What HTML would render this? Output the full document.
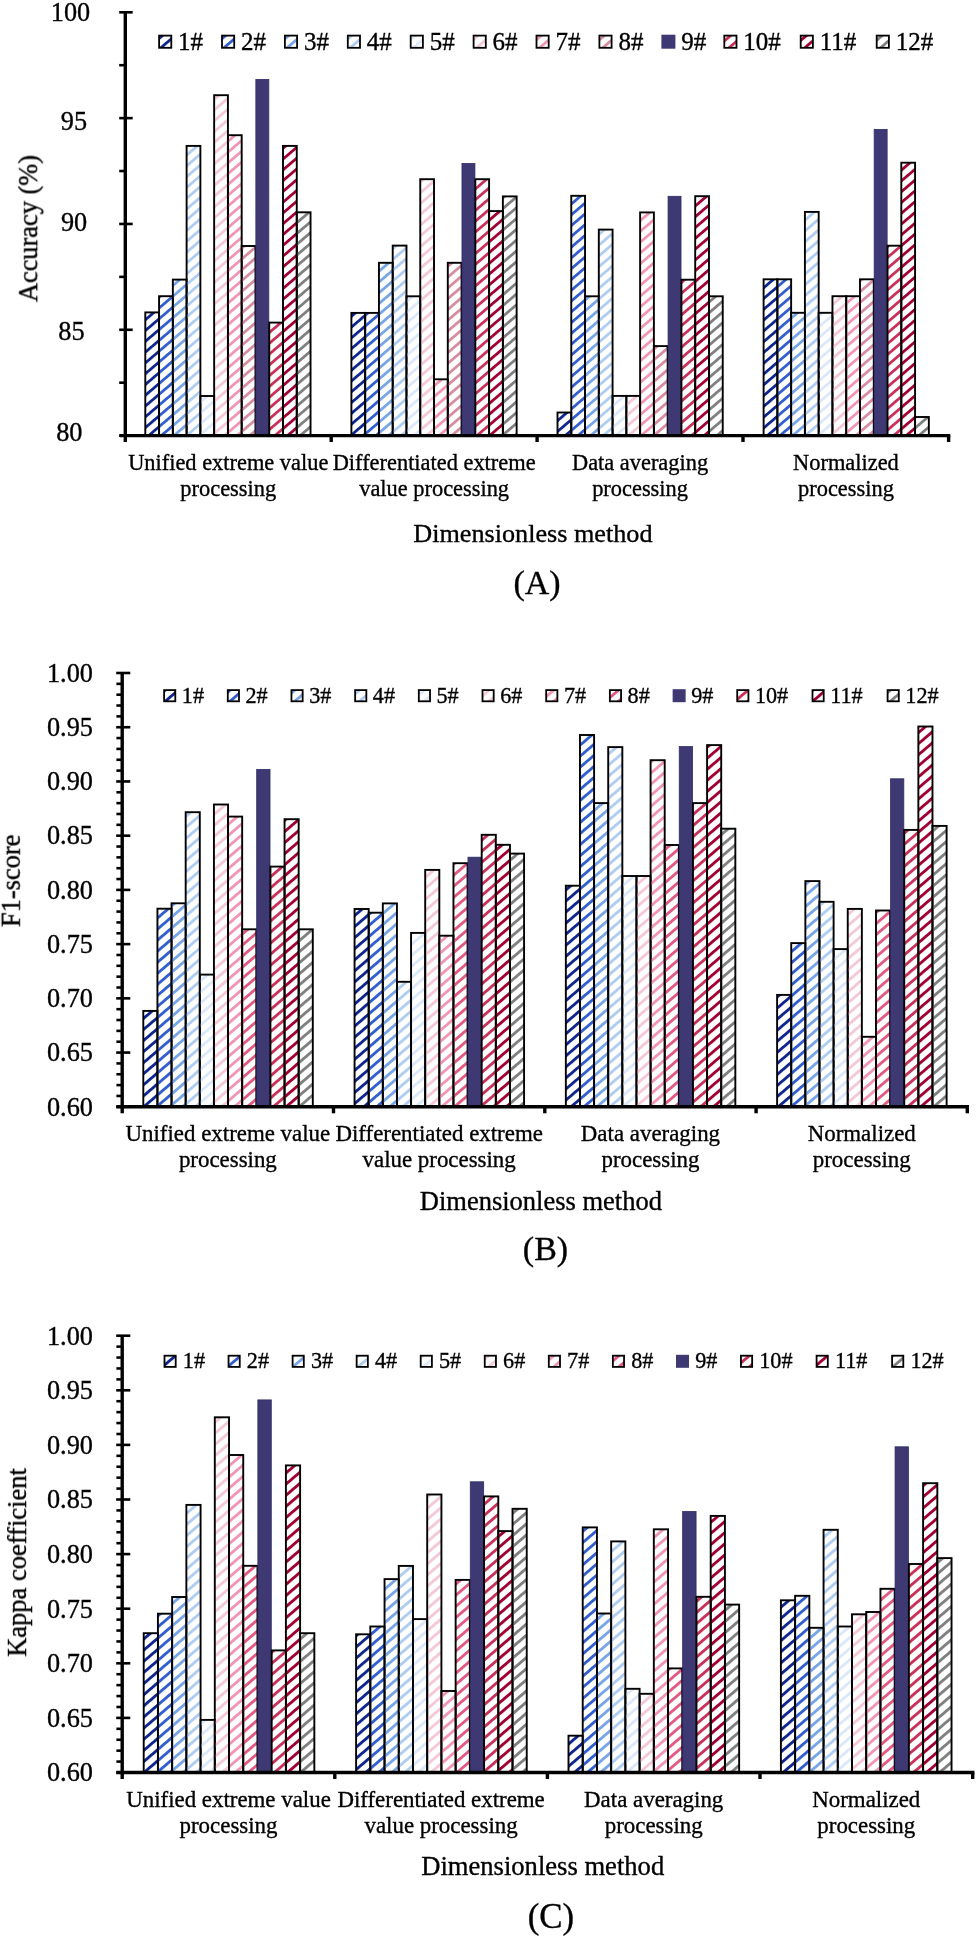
<!DOCTYPE html>
<html><head><meta charset="utf-8"><title>Dimensionless method comparison</title>
<style>
html,body{margin:0;padding:0;background:#fff;}
body{width:976px;height:1936px;overflow:hidden;}
svg{display:block;font-family:"Liberation Serif", serif;}
text{fill:#000;}
</style></head><body>
<svg width="976" height="1936" viewBox="0 0 976 1936">
<defs>
<pattern id="pA1" patternUnits="userSpaceOnUse" width="20" height="8.2" patternTransform="rotate(-40.5)"><rect x="0" y="0" width="20" height="2.8" fill="#0f268e"/></pattern>
<pattern id="pA2" patternUnits="userSpaceOnUse" width="20" height="8.2" patternTransform="rotate(-40.5)"><rect x="0" y="0" width="20" height="2.8" fill="#325fcd"/></pattern>
<pattern id="pA3" patternUnits="userSpaceOnUse" width="20" height="8.2" patternTransform="rotate(-40.5)"><rect x="0" y="0" width="20" height="2.8" fill="#78a5e6"/></pattern>
<pattern id="pA4" patternUnits="userSpaceOnUse" width="20" height="8.2" patternTransform="rotate(-40.5)"><rect x="0" y="0" width="20" height="2.8" fill="#afcdf0"/></pattern>
<pattern id="pA5" patternUnits="userSpaceOnUse" width="20" height="8.2" patternTransform="rotate(-40.5)"><rect x="0" y="0" width="20" height="2.8" fill="#dce8fa"/></pattern>
<pattern id="pA6" patternUnits="userSpaceOnUse" width="20" height="8.2" patternTransform="rotate(-40.5)"><rect x="0" y="0" width="20" height="2.8" fill="#f5c8d7"/></pattern>
<pattern id="pA7" patternUnits="userSpaceOnUse" width="20" height="8.2" patternTransform="rotate(-40.5)"><rect x="0" y="0" width="20" height="2.8" fill="#f096b4"/></pattern>
<pattern id="pA8" patternUnits="userSpaceOnUse" width="20" height="8.2" patternTransform="rotate(-40.5)"><rect x="0" y="0" width="20" height="2.8" fill="#d78ca0"/></pattern>
<pattern id="pA10" patternUnits="userSpaceOnUse" width="20" height="8.2" patternTransform="rotate(-40.5)"><rect x="0" y="0" width="20" height="2.8" fill="#c8325a"/></pattern>
<pattern id="pA11" patternUnits="userSpaceOnUse" width="20" height="8.2" patternTransform="rotate(-40.5)"><rect x="0" y="0" width="20" height="2.8" fill="#a00032"/></pattern>
<pattern id="pA12" patternUnits="userSpaceOnUse" width="20" height="8.2" patternTransform="rotate(-40.5)"><rect x="0" y="0" width="20" height="2.8" fill="#808080"/></pattern>
<pattern id="pB1" patternUnits="userSpaceOnUse" width="20" height="8.41" patternTransform="rotate(-40.5)"><rect x="0" y="0" width="20" height="2.87" fill="#0f268e"/></pattern>
<pattern id="pB2" patternUnits="userSpaceOnUse" width="20" height="8.41" patternTransform="rotate(-40.5)"><rect x="0" y="0" width="20" height="2.87" fill="#325fcd"/></pattern>
<pattern id="pB3" patternUnits="userSpaceOnUse" width="20" height="8.41" patternTransform="rotate(-40.5)"><rect x="0" y="0" width="20" height="2.87" fill="#78a5e6"/></pattern>
<pattern id="pB4" patternUnits="userSpaceOnUse" width="20" height="8.41" patternTransform="rotate(-40.5)"><rect x="0" y="0" width="20" height="2.87" fill="#afcdf0"/></pattern>
<pattern id="pB5" patternUnits="userSpaceOnUse" width="20" height="8.41" patternTransform="rotate(-40.5)"><rect x="0" y="0" width="20" height="2.87" fill="#dce8fa"/></pattern>
<pattern id="pB6" patternUnits="userSpaceOnUse" width="20" height="8.41" patternTransform="rotate(-40.5)"><rect x="0" y="0" width="20" height="2.87" fill="#f5c8d7"/></pattern>
<pattern id="pB7" patternUnits="userSpaceOnUse" width="20" height="8.41" patternTransform="rotate(-40.5)"><rect x="0" y="0" width="20" height="2.87" fill="#f096b4"/></pattern>
<pattern id="pB8" patternUnits="userSpaceOnUse" width="20" height="8.41" patternTransform="rotate(-40.5)"><rect x="0" y="0" width="20" height="2.87" fill="#e15a82"/></pattern>
<pattern id="pB10" patternUnits="userSpaceOnUse" width="20" height="8.41" patternTransform="rotate(-40.5)"><rect x="0" y="0" width="20" height="2.87" fill="#c8325a"/></pattern>
<pattern id="pB11" patternUnits="userSpaceOnUse" width="20" height="8.41" patternTransform="rotate(-40.5)"><rect x="0" y="0" width="20" height="2.87" fill="#a00032"/></pattern>
<pattern id="pB12" patternUnits="userSpaceOnUse" width="20" height="8.41" patternTransform="rotate(-40.5)"><rect x="0" y="0" width="20" height="2.87" fill="#808080"/></pattern>
<pattern id="pC1" patternUnits="userSpaceOnUse" width="20" height="8.47" patternTransform="rotate(-40.5)"><rect x="0" y="0" width="20" height="2.89" fill="#0f268e"/></pattern>
<pattern id="pC2" patternUnits="userSpaceOnUse" width="20" height="8.47" patternTransform="rotate(-40.5)"><rect x="0" y="0" width="20" height="2.89" fill="#325fcd"/></pattern>
<pattern id="pC3" patternUnits="userSpaceOnUse" width="20" height="8.47" patternTransform="rotate(-40.5)"><rect x="0" y="0" width="20" height="2.89" fill="#78a5e6"/></pattern>
<pattern id="pC4" patternUnits="userSpaceOnUse" width="20" height="8.47" patternTransform="rotate(-40.5)"><rect x="0" y="0" width="20" height="2.89" fill="#afcdf0"/></pattern>
<pattern id="pC5" patternUnits="userSpaceOnUse" width="20" height="8.47" patternTransform="rotate(-40.5)"><rect x="0" y="0" width="20" height="2.89" fill="#dce8fa"/></pattern>
<pattern id="pC6" patternUnits="userSpaceOnUse" width="20" height="8.47" patternTransform="rotate(-40.5)"><rect x="0" y="0" width="20" height="2.89" fill="#f5c8d7"/></pattern>
<pattern id="pC7" patternUnits="userSpaceOnUse" width="20" height="8.47" patternTransform="rotate(-40.5)"><rect x="0" y="0" width="20" height="2.89" fill="#f096b4"/></pattern>
<pattern id="pC8" patternUnits="userSpaceOnUse" width="20" height="8.47" patternTransform="rotate(-40.5)"><rect x="0" y="0" width="20" height="2.89" fill="#e15a82"/></pattern>
<pattern id="pC10" patternUnits="userSpaceOnUse" width="20" height="8.47" patternTransform="rotate(-40.5)"><rect x="0" y="0" width="20" height="2.89" fill="#c8325a"/></pattern>
<pattern id="pC11" patternUnits="userSpaceOnUse" width="20" height="8.47" patternTransform="rotate(-40.5)"><rect x="0" y="0" width="20" height="2.89" fill="#a00032"/></pattern>
<pattern id="pC12" patternUnits="userSpaceOnUse" width="20" height="8.47" patternTransform="rotate(-40.5)"><rect x="0" y="0" width="20" height="2.89" fill="#808080"/></pattern>
</defs>
<rect width="976" height="1936" fill="#fff"/>
<rect x="145.3" y="312.4" width="13.77" height="123.2" fill="url(#pA1)" stroke="#000" stroke-width="1.9"/>
<rect x="159.07" y="296.2" width="13.77" height="139.4" fill="url(#pA2)" stroke="#000" stroke-width="1.9"/>
<rect x="172.84" y="279.6" width="13.77" height="156" fill="url(#pA3)" stroke="#000" stroke-width="1.9"/>
<rect x="186.61" y="145.9" width="13.77" height="289.7" fill="url(#pA4)" stroke="#000" stroke-width="1.9"/>
<rect x="200.38" y="396" width="13.77" height="39.6" fill="url(#pA5)" stroke="#000" stroke-width="1.9"/>
<rect x="214.15" y="95.2" width="13.77" height="340.4" fill="url(#pA6)" stroke="#000" stroke-width="1.9"/>
<rect x="227.92" y="135.2" width="13.77" height="300.4" fill="url(#pA7)" stroke="#000" stroke-width="1.9"/>
<rect x="241.69" y="246" width="13.77" height="189.6" fill="url(#pA8)" stroke="#000" stroke-width="1.9"/>
<rect x="255.86" y="79.4" width="12.97" height="356.2" fill="#3e3973" stroke="#2f2c68" stroke-width="0.8"/>
<rect x="269.23" y="322.6" width="13.77" height="113" fill="url(#pA10)" stroke="#000" stroke-width="1.9"/>
<rect x="283" y="145.9" width="13.77" height="289.7" fill="url(#pA11)" stroke="#000" stroke-width="1.9"/>
<rect x="296.77" y="212.3" width="13.77" height="223.3" fill="url(#pA12)" stroke="#000" stroke-width="1.9"/>
<rect x="351.4" y="312.9" width="13.77" height="122.7" fill="url(#pA1)" stroke="#000" stroke-width="1.9"/>
<rect x="365.17" y="312.9" width="13.77" height="122.7" fill="url(#pA2)" stroke="#000" stroke-width="1.9"/>
<rect x="378.94" y="262.8" width="13.77" height="172.8" fill="url(#pA3)" stroke="#000" stroke-width="1.9"/>
<rect x="392.71" y="245.6" width="13.77" height="190" fill="url(#pA4)" stroke="#000" stroke-width="1.9"/>
<rect x="406.48" y="296.3" width="13.77" height="139.3" fill="url(#pA5)" stroke="#000" stroke-width="1.9"/>
<rect x="420.25" y="179.2" width="13.77" height="256.4" fill="url(#pA6)" stroke="#000" stroke-width="1.9"/>
<rect x="434.02" y="379.3" width="13.77" height="56.3" fill="url(#pA7)" stroke="#000" stroke-width="1.9"/>
<rect x="447.79" y="262.8" width="13.77" height="172.8" fill="url(#pA8)" stroke="#000" stroke-width="1.9"/>
<rect x="461.96" y="163.5" width="12.97" height="272.1" fill="#3e3973" stroke="#2f2c68" stroke-width="0.8"/>
<rect x="475.33" y="179.2" width="13.77" height="256.4" fill="url(#pA10)" stroke="#000" stroke-width="1.9"/>
<rect x="489.1" y="211.1" width="13.77" height="224.5" fill="url(#pA11)" stroke="#000" stroke-width="1.9"/>
<rect x="502.87" y="196.4" width="13.77" height="239.2" fill="url(#pA12)" stroke="#000" stroke-width="1.9"/>
<rect x="557.5" y="412.5" width="13.77" height="23.1" fill="url(#pA1)" stroke="#000" stroke-width="1.9"/>
<rect x="571.27" y="195.8" width="13.77" height="239.8" fill="url(#pA2)" stroke="#000" stroke-width="1.9"/>
<rect x="585.04" y="296.3" width="13.77" height="139.3" fill="url(#pA3)" stroke="#000" stroke-width="1.9"/>
<rect x="598.81" y="229.6" width="13.77" height="206" fill="url(#pA4)" stroke="#000" stroke-width="1.9"/>
<rect x="612.58" y="395.9" width="13.77" height="39.7" fill="url(#pA5)" stroke="#000" stroke-width="1.9"/>
<rect x="626.35" y="395.9" width="13.77" height="39.7" fill="url(#pA6)" stroke="#000" stroke-width="1.9"/>
<rect x="640.12" y="212.4" width="13.77" height="223.2" fill="url(#pA7)" stroke="#000" stroke-width="1.9"/>
<rect x="653.89" y="346.1" width="13.77" height="89.5" fill="url(#pA8)" stroke="#000" stroke-width="1.9"/>
<rect x="668.06" y="196.3" width="12.97" height="239.3" fill="#3e3973" stroke="#2f2c68" stroke-width="0.8"/>
<rect x="681.43" y="279.7" width="13.77" height="155.9" fill="url(#pA10)" stroke="#000" stroke-width="1.9"/>
<rect x="695.2" y="196.2" width="13.77" height="239.4" fill="url(#pA11)" stroke="#000" stroke-width="1.9"/>
<rect x="708.97" y="296.3" width="13.77" height="139.3" fill="url(#pA12)" stroke="#000" stroke-width="1.9"/>
<rect x="763.6" y="279.3" width="13.77" height="156.3" fill="url(#pA1)" stroke="#000" stroke-width="1.9"/>
<rect x="777.37" y="279.3" width="13.77" height="156.3" fill="url(#pA2)" stroke="#000" stroke-width="1.9"/>
<rect x="791.14" y="312.8" width="13.77" height="122.8" fill="url(#pA3)" stroke="#000" stroke-width="1.9"/>
<rect x="804.91" y="211.9" width="13.77" height="223.7" fill="url(#pA4)" stroke="#000" stroke-width="1.9"/>
<rect x="818.68" y="312.8" width="13.77" height="122.8" fill="url(#pA5)" stroke="#000" stroke-width="1.9"/>
<rect x="832.45" y="296.2" width="13.77" height="139.4" fill="url(#pA6)" stroke="#000" stroke-width="1.9"/>
<rect x="846.22" y="296.2" width="13.77" height="139.4" fill="url(#pA7)" stroke="#000" stroke-width="1.9"/>
<rect x="859.99" y="279.3" width="13.77" height="156.3" fill="url(#pA8)" stroke="#000" stroke-width="1.9"/>
<rect x="874.16" y="129.4" width="12.97" height="306.2" fill="#3e3973" stroke="#2f2c68" stroke-width="0.8"/>
<rect x="887.53" y="245.7" width="13.77" height="189.9" fill="url(#pA10)" stroke="#000" stroke-width="1.9"/>
<rect x="901.3" y="162.7" width="13.77" height="272.9" fill="url(#pA11)" stroke="#000" stroke-width="1.9"/>
<rect x="915.07" y="417" width="13.77" height="18.6" fill="url(#pA12)" stroke="#000" stroke-width="1.9"/>
<line x1="125.3" y1="12.3" x2="125.3" y2="442" stroke="#000" stroke-width="3.4"/>
<line x1="119.2" y1="12.3" x2="132.7" y2="12.3" stroke="#000" stroke-width="2.6"/>
<line x1="119.2" y1="65.21" x2="125.3" y2="65.21" stroke="#000" stroke-width="2.6"/>
<line x1="119.2" y1="118.12" x2="132.7" y2="118.12" stroke="#000" stroke-width="2.6"/>
<line x1="119.2" y1="171.04" x2="125.3" y2="171.04" stroke="#000" stroke-width="2.6"/>
<line x1="119.2" y1="223.95" x2="132.7" y2="223.95" stroke="#000" stroke-width="2.6"/>
<line x1="119.2" y1="276.86" x2="125.3" y2="276.86" stroke="#000" stroke-width="2.6"/>
<line x1="119.2" y1="329.78" x2="132.7" y2="329.78" stroke="#000" stroke-width="2.6"/>
<line x1="119.2" y1="382.69" x2="125.3" y2="382.69" stroke="#000" stroke-width="2.6"/>
<line x1="119.2" y1="435.6" x2="132.7" y2="435.6" stroke="#000" stroke-width="2.6"/>
<line x1="119.5" y1="435.6" x2="950.3" y2="435.6" stroke="#000" stroke-width="3.4"/>
<line x1="331.2" y1="435.6" x2="331.2" y2="442" stroke="#000" stroke-width="3.4"/>
<line x1="537.1" y1="435.6" x2="537.1" y2="442" stroke="#000" stroke-width="3.4"/>
<line x1="743" y1="435.6" x2="743" y2="442" stroke="#000" stroke-width="3.4"/>
<line x1="948.6" y1="435.6" x2="948.6" y2="442" stroke="#000" stroke-width="3.4"/>
<rect x="159.1" y="35.6" width="12.2" height="12.2" fill="url(#pA1)" stroke="#000" stroke-width="1.8"/>
<rect x="222" y="35.6" width="12.2" height="12.2" fill="url(#pA2)" stroke="#000" stroke-width="1.8"/>
<rect x="284.9" y="35.6" width="12.2" height="12.2" fill="url(#pA3)" stroke="#000" stroke-width="1.8"/>
<rect x="347.8" y="35.6" width="12.2" height="12.2" fill="url(#pA4)" stroke="#000" stroke-width="1.8"/>
<rect x="410.7" y="35.6" width="12.2" height="12.2" fill="url(#pA5)" stroke="#000" stroke-width="1.8"/>
<rect x="473.6" y="35.6" width="12.2" height="12.2" fill="url(#pA6)" stroke="#000" stroke-width="1.8"/>
<rect x="536.5" y="35.6" width="12.2" height="12.2" fill="url(#pA7)" stroke="#000" stroke-width="1.8"/>
<rect x="599.4" y="35.6" width="12.2" height="12.2" fill="url(#pA8)" stroke="#000" stroke-width="1.8"/>
<rect x="661.4" y="34.7" width="14" height="14" fill="#3e3973"/>
<rect x="724.3" y="35.6" width="12.2" height="12.2" fill="url(#pA10)" stroke="#000" stroke-width="1.8"/>
<rect x="800.7" y="35.6" width="12.2" height="12.2" fill="url(#pA11)" stroke="#000" stroke-width="1.8"/>
<rect x="876.7" y="35.6" width="12.2" height="12.2" fill="url(#pA12)" stroke="#000" stroke-width="1.8"/>
<rect x="143.3" y="1010.9" width="14.12" height="95.9" fill="url(#pB1)" stroke="#000" stroke-width="1.9"/>
<rect x="157.43" y="908.7" width="14.12" height="198.1" fill="url(#pB2)" stroke="#000" stroke-width="1.9"/>
<rect x="171.55" y="903.3" width="14.12" height="203.5" fill="url(#pB3)" stroke="#000" stroke-width="1.9"/>
<rect x="185.68" y="812.2" width="14.12" height="294.6" fill="url(#pB4)" stroke="#000" stroke-width="1.9"/>
<rect x="199.8" y="974.6" width="14.12" height="132.2" fill="url(#pB5)" stroke="#000" stroke-width="1.9"/>
<rect x="213.93" y="804.5" width="14.12" height="302.3" fill="url(#pB6)" stroke="#000" stroke-width="1.9"/>
<rect x="228.05" y="816.6" width="14.12" height="290.2" fill="url(#pB7)" stroke="#000" stroke-width="1.9"/>
<rect x="242.18" y="929.3" width="14.12" height="177.5" fill="url(#pB8)" stroke="#000" stroke-width="1.9"/>
<rect x="256.7" y="769.4" width="13.32" height="337.4" fill="#3e3973" stroke="#2f2c68" stroke-width="0.8"/>
<rect x="270.43" y="866.6" width="14.12" height="240.2" fill="url(#pB10)" stroke="#000" stroke-width="1.9"/>
<rect x="284.55" y="819.2" width="14.12" height="287.6" fill="url(#pB11)" stroke="#000" stroke-width="1.9"/>
<rect x="298.68" y="929.3" width="14.12" height="177.5" fill="url(#pB12)" stroke="#000" stroke-width="1.9"/>
<rect x="354.57" y="909" width="14.12" height="197.8" fill="url(#pB1)" stroke="#000" stroke-width="1.9"/>
<rect x="368.7" y="912.7" width="14.12" height="194.1" fill="url(#pB2)" stroke="#000" stroke-width="1.9"/>
<rect x="382.82" y="903.4" width="14.12" height="203.4" fill="url(#pB3)" stroke="#000" stroke-width="1.9"/>
<rect x="396.95" y="981.8" width="14.12" height="125" fill="url(#pB4)" stroke="#000" stroke-width="1.9"/>
<rect x="411.07" y="932.9" width="14.12" height="173.9" fill="url(#pB5)" stroke="#000" stroke-width="1.9"/>
<rect x="425.2" y="869.9" width="14.12" height="236.9" fill="url(#pB6)" stroke="#000" stroke-width="1.9"/>
<rect x="439.32" y="935.7" width="14.12" height="171.1" fill="url(#pB7)" stroke="#000" stroke-width="1.9"/>
<rect x="453.45" y="863.2" width="14.12" height="243.6" fill="url(#pB8)" stroke="#000" stroke-width="1.9"/>
<rect x="467.97" y="857.2" width="13.32" height="249.6" fill="#3e3973" stroke="#2f2c68" stroke-width="0.8"/>
<rect x="481.7" y="834.8" width="14.12" height="272" fill="url(#pB10)" stroke="#000" stroke-width="1.9"/>
<rect x="495.82" y="844.8" width="14.12" height="262" fill="url(#pB11)" stroke="#000" stroke-width="1.9"/>
<rect x="509.95" y="853.6" width="14.12" height="253.2" fill="url(#pB12)" stroke="#000" stroke-width="1.9"/>
<rect x="565.84" y="885.7" width="14.12" height="221.1" fill="url(#pB1)" stroke="#000" stroke-width="1.9"/>
<rect x="579.97" y="735" width="14.12" height="371.8" fill="url(#pB2)" stroke="#000" stroke-width="1.9"/>
<rect x="594.09" y="803.1" width="14.12" height="303.7" fill="url(#pB3)" stroke="#000" stroke-width="1.9"/>
<rect x="608.22" y="747.1" width="14.12" height="359.7" fill="url(#pB4)" stroke="#000" stroke-width="1.9"/>
<rect x="622.34" y="876" width="14.12" height="230.8" fill="url(#pB5)" stroke="#000" stroke-width="1.9"/>
<rect x="636.47" y="876" width="14.12" height="230.8" fill="url(#pB6)" stroke="#000" stroke-width="1.9"/>
<rect x="650.59" y="760.2" width="14.12" height="346.6" fill="url(#pB7)" stroke="#000" stroke-width="1.9"/>
<rect x="664.72" y="845" width="14.12" height="261.8" fill="url(#pB8)" stroke="#000" stroke-width="1.9"/>
<rect x="679.24" y="746.6" width="13.32" height="360.2" fill="#3e3973" stroke="#2f2c68" stroke-width="0.8"/>
<rect x="692.97" y="803.1" width="14.12" height="303.7" fill="url(#pB10)" stroke="#000" stroke-width="1.9"/>
<rect x="707.09" y="745.1" width="14.12" height="361.7" fill="url(#pB11)" stroke="#000" stroke-width="1.9"/>
<rect x="721.22" y="828.7" width="14.12" height="278.1" fill="url(#pB12)" stroke="#000" stroke-width="1.9"/>
<rect x="777.11" y="994.9" width="14.12" height="111.9" fill="url(#pB1)" stroke="#000" stroke-width="1.9"/>
<rect x="791.24" y="943.1" width="14.12" height="163.7" fill="url(#pB2)" stroke="#000" stroke-width="1.9"/>
<rect x="805.36" y="881.1" width="14.12" height="225.7" fill="url(#pB3)" stroke="#000" stroke-width="1.9"/>
<rect x="819.49" y="901.8" width="14.12" height="205" fill="url(#pB4)" stroke="#000" stroke-width="1.9"/>
<rect x="833.61" y="949.1" width="14.12" height="157.7" fill="url(#pB5)" stroke="#000" stroke-width="1.9"/>
<rect x="847.74" y="908.9" width="14.12" height="197.9" fill="url(#pB6)" stroke="#000" stroke-width="1.9"/>
<rect x="861.86" y="1036.8" width="14.12" height="70" fill="url(#pB7)" stroke="#000" stroke-width="1.9"/>
<rect x="875.99" y="910.5" width="14.12" height="196.3" fill="url(#pB8)" stroke="#000" stroke-width="1.9"/>
<rect x="890.51" y="778.8" width="13.32" height="328" fill="#3e3973" stroke="#2f2c68" stroke-width="0.8"/>
<rect x="904.24" y="829.9" width="14.12" height="276.9" fill="url(#pB10)" stroke="#000" stroke-width="1.9"/>
<rect x="918.36" y="726.5" width="14.12" height="380.3" fill="url(#pB11)" stroke="#000" stroke-width="1.9"/>
<rect x="932.49" y="825.9" width="14.12" height="280.9" fill="url(#pB12)" stroke="#000" stroke-width="1.9"/>
<line x1="122.2" y1="673" x2="122.2" y2="1113.3" stroke="#000" stroke-width="3.4"/>
<line x1="116.2" y1="673" x2="130.3" y2="673" stroke="#000" stroke-width="2.6"/>
<line x1="116.4" y1="683.85" x2="122.2" y2="683.85" stroke="#000" stroke-width="2.6"/>
<line x1="116.4" y1="694.69" x2="122.2" y2="694.69" stroke="#000" stroke-width="2.6"/>
<line x1="116.4" y1="705.53" x2="122.2" y2="705.53" stroke="#000" stroke-width="2.6"/>
<line x1="116.4" y1="716.38" x2="122.2" y2="716.38" stroke="#000" stroke-width="2.6"/>
<line x1="116.2" y1="727.23" x2="130.3" y2="727.23" stroke="#000" stroke-width="2.6"/>
<line x1="116.4" y1="738.07" x2="122.2" y2="738.07" stroke="#000" stroke-width="2.6"/>
<line x1="116.4" y1="748.91" x2="122.2" y2="748.91" stroke="#000" stroke-width="2.6"/>
<line x1="116.4" y1="759.76" x2="122.2" y2="759.76" stroke="#000" stroke-width="2.6"/>
<line x1="116.4" y1="770.61" x2="122.2" y2="770.61" stroke="#000" stroke-width="2.6"/>
<line x1="116.2" y1="781.45" x2="130.3" y2="781.45" stroke="#000" stroke-width="2.6"/>
<line x1="116.4" y1="792.29" x2="122.2" y2="792.29" stroke="#000" stroke-width="2.6"/>
<line x1="116.4" y1="803.14" x2="122.2" y2="803.14" stroke="#000" stroke-width="2.6"/>
<line x1="116.4" y1="813.99" x2="122.2" y2="813.99" stroke="#000" stroke-width="2.6"/>
<line x1="116.4" y1="824.83" x2="122.2" y2="824.83" stroke="#000" stroke-width="2.6"/>
<line x1="116.2" y1="835.67" x2="130.3" y2="835.67" stroke="#000" stroke-width="2.6"/>
<line x1="116.4" y1="846.52" x2="122.2" y2="846.52" stroke="#000" stroke-width="2.6"/>
<line x1="116.4" y1="857.37" x2="122.2" y2="857.37" stroke="#000" stroke-width="2.6"/>
<line x1="116.4" y1="868.21" x2="122.2" y2="868.21" stroke="#000" stroke-width="2.6"/>
<line x1="116.4" y1="879.05" x2="122.2" y2="879.05" stroke="#000" stroke-width="2.6"/>
<line x1="116.2" y1="889.9" x2="130.3" y2="889.9" stroke="#000" stroke-width="2.6"/>
<line x1="116.4" y1="900.75" x2="122.2" y2="900.75" stroke="#000" stroke-width="2.6"/>
<line x1="116.4" y1="911.59" x2="122.2" y2="911.59" stroke="#000" stroke-width="2.6"/>
<line x1="116.4" y1="922.43" x2="122.2" y2="922.43" stroke="#000" stroke-width="2.6"/>
<line x1="116.4" y1="933.28" x2="122.2" y2="933.28" stroke="#000" stroke-width="2.6"/>
<line x1="116.2" y1="944.12" x2="130.3" y2="944.12" stroke="#000" stroke-width="2.6"/>
<line x1="116.4" y1="954.97" x2="122.2" y2="954.97" stroke="#000" stroke-width="2.6"/>
<line x1="116.4" y1="965.81" x2="122.2" y2="965.81" stroke="#000" stroke-width="2.6"/>
<line x1="116.4" y1="976.66" x2="122.2" y2="976.66" stroke="#000" stroke-width="2.6"/>
<line x1="116.4" y1="987.5" x2="122.2" y2="987.5" stroke="#000" stroke-width="2.6"/>
<line x1="116.2" y1="998.35" x2="130.3" y2="998.35" stroke="#000" stroke-width="2.6"/>
<line x1="116.4" y1="1009.19" x2="122.2" y2="1009.19" stroke="#000" stroke-width="2.6"/>
<line x1="116.4" y1="1020.04" x2="122.2" y2="1020.04" stroke="#000" stroke-width="2.6"/>
<line x1="116.4" y1="1030.88" x2="122.2" y2="1030.88" stroke="#000" stroke-width="2.6"/>
<line x1="116.4" y1="1041.73" x2="122.2" y2="1041.73" stroke="#000" stroke-width="2.6"/>
<line x1="116.2" y1="1052.57" x2="130.3" y2="1052.57" stroke="#000" stroke-width="2.6"/>
<line x1="116.4" y1="1063.42" x2="122.2" y2="1063.42" stroke="#000" stroke-width="2.6"/>
<line x1="116.4" y1="1074.26" x2="122.2" y2="1074.26" stroke="#000" stroke-width="2.6"/>
<line x1="116.4" y1="1085.11" x2="122.2" y2="1085.11" stroke="#000" stroke-width="2.6"/>
<line x1="116.4" y1="1095.95" x2="122.2" y2="1095.95" stroke="#000" stroke-width="2.6"/>
<line x1="116.2" y1="1106.8" x2="130.3" y2="1106.8" stroke="#000" stroke-width="2.6"/>
<line x1="116.4" y1="1106.8" x2="969" y2="1106.8" stroke="#000" stroke-width="3.4"/>
<line x1="333.5" y1="1106.8" x2="333.5" y2="1113.3" stroke="#000" stroke-width="3.4"/>
<line x1="544.8" y1="1106.8" x2="544.8" y2="1113.3" stroke="#000" stroke-width="3.4"/>
<line x1="756.1" y1="1106.8" x2="756.1" y2="1113.3" stroke="#000" stroke-width="3.4"/>
<line x1="967.3" y1="1106.8" x2="967.3" y2="1113.3" stroke="#000" stroke-width="3.4"/>
<rect x="164.1" y="690.1" width="11.2" height="11.2" fill="url(#pB1)" stroke="#000" stroke-width="1.8"/>
<rect x="227.78" y="690.1" width="11.2" height="11.2" fill="url(#pB2)" stroke="#000" stroke-width="1.8"/>
<rect x="291.46" y="690.1" width="11.2" height="11.2" fill="url(#pB3)" stroke="#000" stroke-width="1.8"/>
<rect x="355.14" y="690.1" width="11.2" height="11.2" fill="url(#pB4)" stroke="#000" stroke-width="1.8"/>
<rect x="418.82" y="690.1" width="11.2" height="11.2" fill="url(#pB5)" stroke="#000" stroke-width="1.8"/>
<rect x="482.5" y="690.1" width="11.2" height="11.2" fill="url(#pB6)" stroke="#000" stroke-width="1.8"/>
<rect x="546.18" y="690.1" width="11.2" height="11.2" fill="url(#pB7)" stroke="#000" stroke-width="1.8"/>
<rect x="609.86" y="690.1" width="11.2" height="11.2" fill="url(#pB8)" stroke="#000" stroke-width="1.8"/>
<rect x="672.64" y="689.2" width="13" height="13" fill="#3e3973"/>
<rect x="737.22" y="690.1" width="11.2" height="11.2" fill="url(#pB10)" stroke="#000" stroke-width="1.8"/>
<rect x="812.5" y="690.1" width="11.2" height="11.2" fill="url(#pB11)" stroke="#000" stroke-width="1.8"/>
<rect x="887.6" y="690.1" width="11.2" height="11.2" fill="url(#pB12)" stroke="#000" stroke-width="1.8"/>
<rect x="143.7" y="1633.2" width="14.22" height="139.3" fill="url(#pC1)" stroke="#000" stroke-width="1.9"/>
<rect x="157.92" y="1613.7" width="14.22" height="158.8" fill="url(#pC2)" stroke="#000" stroke-width="1.9"/>
<rect x="172.14" y="1597" width="14.22" height="175.5" fill="url(#pC3)" stroke="#000" stroke-width="1.9"/>
<rect x="186.36" y="1504.9" width="14.22" height="267.6" fill="url(#pC4)" stroke="#000" stroke-width="1.9"/>
<rect x="200.58" y="1719.9" width="14.22" height="52.6" fill="url(#pC5)" stroke="#000" stroke-width="1.9"/>
<rect x="214.8" y="1417.3" width="14.22" height="355.2" fill="url(#pC6)" stroke="#000" stroke-width="1.9"/>
<rect x="229.02" y="1455" width="14.22" height="317.5" fill="url(#pC7)" stroke="#000" stroke-width="1.9"/>
<rect x="243.24" y="1565.8" width="14.22" height="206.7" fill="url(#pC8)" stroke="#000" stroke-width="1.9"/>
<rect x="257.86" y="1399.9" width="13.42" height="372.6" fill="#3e3973" stroke="#2f2c68" stroke-width="0.8"/>
<rect x="271.68" y="1650.4" width="14.22" height="122.1" fill="url(#pC10)" stroke="#000" stroke-width="1.9"/>
<rect x="285.9" y="1465.4" width="14.22" height="307.1" fill="url(#pC11)" stroke="#000" stroke-width="1.9"/>
<rect x="300.12" y="1633.2" width="14.22" height="139.3" fill="url(#pC12)" stroke="#000" stroke-width="1.9"/>
<rect x="356.1" y="1634.3" width="14.22" height="138.2" fill="url(#pC1)" stroke="#000" stroke-width="1.9"/>
<rect x="370.32" y="1626.5" width="14.22" height="146" fill="url(#pC2)" stroke="#000" stroke-width="1.9"/>
<rect x="384.54" y="1579.1" width="14.22" height="193.4" fill="url(#pC3)" stroke="#000" stroke-width="1.9"/>
<rect x="398.76" y="1565.9" width="14.22" height="206.6" fill="url(#pC4)" stroke="#000" stroke-width="1.9"/>
<rect x="412.98" y="1619.1" width="14.22" height="153.4" fill="url(#pC5)" stroke="#000" stroke-width="1.9"/>
<rect x="427.2" y="1494.5" width="14.22" height="278" fill="url(#pC6)" stroke="#000" stroke-width="1.9"/>
<rect x="441.42" y="1691" width="14.22" height="81.5" fill="url(#pC7)" stroke="#000" stroke-width="1.9"/>
<rect x="455.64" y="1579.9" width="14.22" height="192.6" fill="url(#pC8)" stroke="#000" stroke-width="1.9"/>
<rect x="470.26" y="1481.8" width="13.42" height="290.7" fill="#3e3973" stroke="#2f2c68" stroke-width="0.8"/>
<rect x="484.08" y="1496.4" width="14.22" height="276.1" fill="url(#pC10)" stroke="#000" stroke-width="1.9"/>
<rect x="498.3" y="1531.1" width="14.22" height="241.4" fill="url(#pC11)" stroke="#000" stroke-width="1.9"/>
<rect x="512.52" y="1508.8" width="14.22" height="263.7" fill="url(#pC12)" stroke="#000" stroke-width="1.9"/>
<rect x="568.5" y="1735.7" width="14.22" height="36.8" fill="url(#pC1)" stroke="#000" stroke-width="1.9"/>
<rect x="582.72" y="1527.4" width="14.22" height="245.1" fill="url(#pC2)" stroke="#000" stroke-width="1.9"/>
<rect x="596.94" y="1613.5" width="14.22" height="159" fill="url(#pC3)" stroke="#000" stroke-width="1.9"/>
<rect x="611.16" y="1541.4" width="14.22" height="231.1" fill="url(#pC4)" stroke="#000" stroke-width="1.9"/>
<rect x="625.38" y="1688.8" width="14.22" height="83.7" fill="url(#pC5)" stroke="#000" stroke-width="1.9"/>
<rect x="639.6" y="1693.8" width="14.22" height="78.7" fill="url(#pC6)" stroke="#000" stroke-width="1.9"/>
<rect x="653.82" y="1529.3" width="14.22" height="243.2" fill="url(#pC7)" stroke="#000" stroke-width="1.9"/>
<rect x="668.04" y="1668.4" width="14.22" height="104.1" fill="url(#pC8)" stroke="#000" stroke-width="1.9"/>
<rect x="682.66" y="1511.5" width="13.42" height="261" fill="#3e3973" stroke="#2f2c68" stroke-width="0.8"/>
<rect x="696.48" y="1596.8" width="14.22" height="175.7" fill="url(#pC10)" stroke="#000" stroke-width="1.9"/>
<rect x="710.7" y="1515.9" width="14.22" height="256.6" fill="url(#pC11)" stroke="#000" stroke-width="1.9"/>
<rect x="724.92" y="1604.6" width="14.22" height="167.9" fill="url(#pC12)" stroke="#000" stroke-width="1.9"/>
<rect x="780.9" y="1600.3" width="14.22" height="172.2" fill="url(#pC1)" stroke="#000" stroke-width="1.9"/>
<rect x="795.12" y="1595.8" width="14.22" height="176.7" fill="url(#pC2)" stroke="#000" stroke-width="1.9"/>
<rect x="809.34" y="1627.8" width="14.22" height="144.7" fill="url(#pC3)" stroke="#000" stroke-width="1.9"/>
<rect x="823.56" y="1529.8" width="14.22" height="242.7" fill="url(#pC4)" stroke="#000" stroke-width="1.9"/>
<rect x="837.78" y="1626.5" width="14.22" height="146" fill="url(#pC5)" stroke="#000" stroke-width="1.9"/>
<rect x="852" y="1614.3" width="14.22" height="158.2" fill="url(#pC6)" stroke="#000" stroke-width="1.9"/>
<rect x="866.22" y="1612" width="14.22" height="160.5" fill="url(#pC7)" stroke="#000" stroke-width="1.9"/>
<rect x="880.44" y="1588.8" width="14.22" height="183.7" fill="url(#pC8)" stroke="#000" stroke-width="1.9"/>
<rect x="895.06" y="1446.8" width="13.42" height="325.7" fill="#3e3973" stroke="#2f2c68" stroke-width="0.8"/>
<rect x="908.88" y="1564" width="14.22" height="208.5" fill="url(#pC10)" stroke="#000" stroke-width="1.9"/>
<rect x="923.1" y="1483.2" width="14.22" height="289.3" fill="url(#pC11)" stroke="#000" stroke-width="1.9"/>
<rect x="937.32" y="1558.1" width="14.22" height="214.4" fill="url(#pC12)" stroke="#000" stroke-width="1.9"/>
<line x1="122.2" y1="1335.7" x2="122.2" y2="1779" stroke="#000" stroke-width="3.4"/>
<line x1="116.2" y1="1335.7" x2="130.3" y2="1335.7" stroke="#000" stroke-width="2.6"/>
<line x1="116.4" y1="1346.62" x2="122.2" y2="1346.62" stroke="#000" stroke-width="2.6"/>
<line x1="116.4" y1="1357.54" x2="122.2" y2="1357.54" stroke="#000" stroke-width="2.6"/>
<line x1="116.4" y1="1368.46" x2="122.2" y2="1368.46" stroke="#000" stroke-width="2.6"/>
<line x1="116.4" y1="1379.38" x2="122.2" y2="1379.38" stroke="#000" stroke-width="2.6"/>
<line x1="116.2" y1="1390.3" x2="130.3" y2="1390.3" stroke="#000" stroke-width="2.6"/>
<line x1="116.4" y1="1401.22" x2="122.2" y2="1401.22" stroke="#000" stroke-width="2.6"/>
<line x1="116.4" y1="1412.14" x2="122.2" y2="1412.14" stroke="#000" stroke-width="2.6"/>
<line x1="116.4" y1="1423.06" x2="122.2" y2="1423.06" stroke="#000" stroke-width="2.6"/>
<line x1="116.4" y1="1433.98" x2="122.2" y2="1433.98" stroke="#000" stroke-width="2.6"/>
<line x1="116.2" y1="1444.9" x2="130.3" y2="1444.9" stroke="#000" stroke-width="2.6"/>
<line x1="116.4" y1="1455.82" x2="122.2" y2="1455.82" stroke="#000" stroke-width="2.6"/>
<line x1="116.4" y1="1466.74" x2="122.2" y2="1466.74" stroke="#000" stroke-width="2.6"/>
<line x1="116.4" y1="1477.66" x2="122.2" y2="1477.66" stroke="#000" stroke-width="2.6"/>
<line x1="116.4" y1="1488.58" x2="122.2" y2="1488.58" stroke="#000" stroke-width="2.6"/>
<line x1="116.2" y1="1499.5" x2="130.3" y2="1499.5" stroke="#000" stroke-width="2.6"/>
<line x1="116.4" y1="1510.42" x2="122.2" y2="1510.42" stroke="#000" stroke-width="2.6"/>
<line x1="116.4" y1="1521.34" x2="122.2" y2="1521.34" stroke="#000" stroke-width="2.6"/>
<line x1="116.4" y1="1532.26" x2="122.2" y2="1532.26" stroke="#000" stroke-width="2.6"/>
<line x1="116.4" y1="1543.18" x2="122.2" y2="1543.18" stroke="#000" stroke-width="2.6"/>
<line x1="116.2" y1="1554.1" x2="130.3" y2="1554.1" stroke="#000" stroke-width="2.6"/>
<line x1="116.4" y1="1565.02" x2="122.2" y2="1565.02" stroke="#000" stroke-width="2.6"/>
<line x1="116.4" y1="1575.94" x2="122.2" y2="1575.94" stroke="#000" stroke-width="2.6"/>
<line x1="116.4" y1="1586.86" x2="122.2" y2="1586.86" stroke="#000" stroke-width="2.6"/>
<line x1="116.4" y1="1597.78" x2="122.2" y2="1597.78" stroke="#000" stroke-width="2.6"/>
<line x1="116.2" y1="1608.7" x2="130.3" y2="1608.7" stroke="#000" stroke-width="2.6"/>
<line x1="116.4" y1="1619.62" x2="122.2" y2="1619.62" stroke="#000" stroke-width="2.6"/>
<line x1="116.4" y1="1630.54" x2="122.2" y2="1630.54" stroke="#000" stroke-width="2.6"/>
<line x1="116.4" y1="1641.46" x2="122.2" y2="1641.46" stroke="#000" stroke-width="2.6"/>
<line x1="116.4" y1="1652.38" x2="122.2" y2="1652.38" stroke="#000" stroke-width="2.6"/>
<line x1="116.2" y1="1663.3" x2="130.3" y2="1663.3" stroke="#000" stroke-width="2.6"/>
<line x1="116.4" y1="1674.22" x2="122.2" y2="1674.22" stroke="#000" stroke-width="2.6"/>
<line x1="116.4" y1="1685.14" x2="122.2" y2="1685.14" stroke="#000" stroke-width="2.6"/>
<line x1="116.4" y1="1696.06" x2="122.2" y2="1696.06" stroke="#000" stroke-width="2.6"/>
<line x1="116.4" y1="1706.98" x2="122.2" y2="1706.98" stroke="#000" stroke-width="2.6"/>
<line x1="116.2" y1="1717.9" x2="130.3" y2="1717.9" stroke="#000" stroke-width="2.6"/>
<line x1="116.4" y1="1728.82" x2="122.2" y2="1728.82" stroke="#000" stroke-width="2.6"/>
<line x1="116.4" y1="1739.74" x2="122.2" y2="1739.74" stroke="#000" stroke-width="2.6"/>
<line x1="116.4" y1="1750.66" x2="122.2" y2="1750.66" stroke="#000" stroke-width="2.6"/>
<line x1="116.4" y1="1761.58" x2="122.2" y2="1761.58" stroke="#000" stroke-width="2.6"/>
<line x1="116.2" y1="1772.5" x2="130.3" y2="1772.5" stroke="#000" stroke-width="2.6"/>
<line x1="116.4" y1="1772.5" x2="974.4" y2="1772.5" stroke="#000" stroke-width="3.4"/>
<line x1="334.8" y1="1772.5" x2="334.8" y2="1779" stroke="#000" stroke-width="3.4"/>
<line x1="547.4" y1="1772.5" x2="547.4" y2="1779" stroke="#000" stroke-width="3.4"/>
<line x1="760" y1="1772.5" x2="760" y2="1779" stroke="#000" stroke-width="3.4"/>
<line x1="972.7" y1="1772.5" x2="972.7" y2="1779" stroke="#000" stroke-width="3.4"/>
<rect x="164.5" y="1355.7" width="11.2" height="11.2" fill="url(#pC1)" stroke="#000" stroke-width="1.8"/>
<rect x="228.55" y="1355.7" width="11.2" height="11.2" fill="url(#pC2)" stroke="#000" stroke-width="1.8"/>
<rect x="292.6" y="1355.7" width="11.2" height="11.2" fill="url(#pC3)" stroke="#000" stroke-width="1.8"/>
<rect x="356.65" y="1355.7" width="11.2" height="11.2" fill="url(#pC4)" stroke="#000" stroke-width="1.8"/>
<rect x="420.7" y="1355.7" width="11.2" height="11.2" fill="url(#pC5)" stroke="#000" stroke-width="1.8"/>
<rect x="484.75" y="1355.7" width="11.2" height="11.2" fill="url(#pC6)" stroke="#000" stroke-width="1.8"/>
<rect x="548.8" y="1355.7" width="11.2" height="11.2" fill="url(#pC7)" stroke="#000" stroke-width="1.8"/>
<rect x="612.85" y="1355.7" width="11.2" height="11.2" fill="url(#pC8)" stroke="#000" stroke-width="1.8"/>
<rect x="676" y="1354.8" width="13" height="13" fill="#3e3973"/>
<rect x="740.95" y="1355.7" width="11.2" height="11.2" fill="url(#pC10)" stroke="#000" stroke-width="1.8"/>
<rect x="816.6" y="1355.7" width="11.2" height="11.2" fill="url(#pC11)" stroke="#000" stroke-width="1.8"/>
<rect x="892.1" y="1355.7" width="11.2" height="11.2" fill="url(#pC12)" stroke="#000" stroke-width="1.8"/>
<g style="filter:grayscale(1)" stroke="#000" stroke-width="0.35">
<text x="90.2" y="20.71" font-size="26.3" text-anchor="end">100</text>
<text x="87.1" y="129.84" font-size="26.3" text-anchor="end">95</text>
<text x="87.2" y="230.56" font-size="26.3" text-anchor="end">90</text>
<text x="84.6" y="340.19" font-size="26.3" text-anchor="end">85</text>
<text x="82.5" y="441.41" font-size="26.3" text-anchor="end">80</text>
<text x="228.25" y="469.8" font-size="22.4" text-anchor="middle">Unified extreme value</text>
<text x="228.25" y="495.5" font-size="22.4" text-anchor="middle">processing</text>
<text x="434.15" y="469.8" font-size="22.4" text-anchor="middle">Differentiated extreme</text>
<text x="434.15" y="495.5" font-size="22.4" text-anchor="middle">value processing</text>
<text x="640.05" y="469.8" font-size="22.4" text-anchor="middle">Data averaging</text>
<text x="640.05" y="495.5" font-size="22.4" text-anchor="middle">processing</text>
<text x="845.95" y="469.8" font-size="22.4" text-anchor="middle">Normalized</text>
<text x="845.95" y="495.5" font-size="22.4" text-anchor="middle">processing</text>
<text x="532.9" y="542.1" font-size="26.2" text-anchor="middle">Dimensionless method</text>
<text x="537.1" y="593.6" font-size="34" text-anchor="middle">(A)</text>
<text transform="translate(37.2,228.5) rotate(-90)" x="0" y="0" font-size="26.4" text-anchor="middle">Accuracy (%)</text>
<text x="178.1" y="50.2" font-size="25">1#</text>
<text x="241" y="50.2" font-size="25">2#</text>
<text x="303.9" y="50.2" font-size="25">3#</text>
<text x="366.8" y="50.2" font-size="25">4#</text>
<text x="429.7" y="50.2" font-size="25">5#</text>
<text x="492.6" y="50.2" font-size="25">6#</text>
<text x="555.5" y="50.2" font-size="25">7#</text>
<text x="618.4" y="50.2" font-size="25">8#</text>
<text x="681.3" y="50.2" font-size="25">9#</text>
<text x="743.3" y="50.2" font-size="25">10#</text>
<text x="819.7" y="50.2" font-size="25">11#</text>
<text x="895.7" y="50.2" font-size="25">12#</text>
<text x="93" y="681.81" font-size="26.3" text-anchor="end">1.00</text>
<text x="93" y="736.04" font-size="26.3" text-anchor="end">0.95</text>
<text x="93" y="790.26" font-size="26.3" text-anchor="end">0.90</text>
<text x="93" y="844.49" font-size="26.3" text-anchor="end">0.85</text>
<text x="93" y="898.71" font-size="26.3" text-anchor="end">0.80</text>
<text x="93" y="952.94" font-size="26.3" text-anchor="end">0.75</text>
<text x="93" y="1007.16" font-size="26.3" text-anchor="end">0.70</text>
<text x="93" y="1061.39" font-size="26.3" text-anchor="end">0.65</text>
<text x="93" y="1115.61" font-size="26.3" text-anchor="end">0.60</text>
<text x="227.85" y="1141" font-size="22.9" text-anchor="middle">Unified extreme value</text>
<text x="227.85" y="1166.5" font-size="22.9" text-anchor="middle">processing</text>
<text x="439.15" y="1141" font-size="22.9" text-anchor="middle">Differentiated extreme</text>
<text x="439.15" y="1166.5" font-size="22.9" text-anchor="middle">value processing</text>
<text x="650.45" y="1141" font-size="22.9" text-anchor="middle">Data averaging</text>
<text x="650.45" y="1166.5" font-size="22.9" text-anchor="middle">processing</text>
<text x="861.75" y="1141" font-size="22.9" text-anchor="middle">Normalized</text>
<text x="861.75" y="1166.5" font-size="22.9" text-anchor="middle">processing</text>
<text x="540.9" y="1210.2" font-size="26.5" text-anchor="middle">Dimensionless method</text>
<text x="545.5" y="1259.8" font-size="34" text-anchor="middle">(B)</text>
<text transform="translate(19.8,880.8) rotate(-90)" x="0" y="0" font-size="26.5" text-anchor="middle">F1-score</text>
<text x="181.8" y="702.5" font-size="22.2">1#</text>
<text x="245.48" y="702.5" font-size="22.2">2#</text>
<text x="309.16" y="702.5" font-size="22.2">3#</text>
<text x="372.84" y="702.5" font-size="22.2">4#</text>
<text x="436.52" y="702.5" font-size="22.2">5#</text>
<text x="500.2" y="702.5" font-size="22.2">6#</text>
<text x="563.88" y="702.5" font-size="22.2">7#</text>
<text x="627.56" y="702.5" font-size="22.2">8#</text>
<text x="691.24" y="702.5" font-size="22.2">9#</text>
<text x="754.92" y="702.5" font-size="22.2">10#</text>
<text x="830.2" y="702.5" font-size="22.2">11#</text>
<text x="905.3" y="702.5" font-size="22.2">12#</text>
<text x="93" y="1344.51" font-size="26.3" text-anchor="end">1.00</text>
<text x="93" y="1399.11" font-size="26.3" text-anchor="end">0.95</text>
<text x="93" y="1453.71" font-size="26.3" text-anchor="end">0.90</text>
<text x="93" y="1508.31" font-size="26.3" text-anchor="end">0.85</text>
<text x="93" y="1562.91" font-size="26.3" text-anchor="end">0.80</text>
<text x="93" y="1617.51" font-size="26.3" text-anchor="end">0.75</text>
<text x="93" y="1672.11" font-size="26.3" text-anchor="end">0.70</text>
<text x="93" y="1726.71" font-size="26.3" text-anchor="end">0.65</text>
<text x="93" y="1781.31" font-size="26.3" text-anchor="end">0.60</text>
<text x="228.5" y="1806.8" font-size="22.9" text-anchor="middle">Unified extreme value</text>
<text x="228.5" y="1833" font-size="22.9" text-anchor="middle">processing</text>
<text x="441.1" y="1806.8" font-size="22.9" text-anchor="middle">Differentiated extreme</text>
<text x="441.1" y="1833" font-size="22.9" text-anchor="middle">value processing</text>
<text x="653.7" y="1806.8" font-size="22.9" text-anchor="middle">Data averaging</text>
<text x="653.7" y="1833" font-size="22.9" text-anchor="middle">processing</text>
<text x="866.3" y="1806.8" font-size="22.9" text-anchor="middle">Normalized</text>
<text x="866.3" y="1833" font-size="22.9" text-anchor="middle">processing</text>
<text x="542.7" y="1875.3" font-size="26.6" text-anchor="middle">Dimensionless method</text>
<text x="550.9" y="1928.2" font-size="34.9" text-anchor="middle">(C)</text>
<text transform="translate(26,1562.5) rotate(-90)" x="0" y="0" font-size="26.5" text-anchor="middle">Kappa coefficient</text>
<text x="182.8" y="1368" font-size="22.2">1#</text>
<text x="246.85" y="1368" font-size="22.2">2#</text>
<text x="310.9" y="1368" font-size="22.2">3#</text>
<text x="374.95" y="1368" font-size="22.2">4#</text>
<text x="439" y="1368" font-size="22.2">5#</text>
<text x="503.05" y="1368" font-size="22.2">6#</text>
<text x="567.1" y="1368" font-size="22.2">7#</text>
<text x="631.15" y="1368" font-size="22.2">8#</text>
<text x="695.2" y="1368" font-size="22.2">9#</text>
<text x="759.25" y="1368" font-size="22.2">10#</text>
<text x="834.9" y="1368" font-size="22.2">11#</text>
<text x="910.4" y="1368" font-size="22.2">12#</text>
</g>
</svg>
</body></html>
